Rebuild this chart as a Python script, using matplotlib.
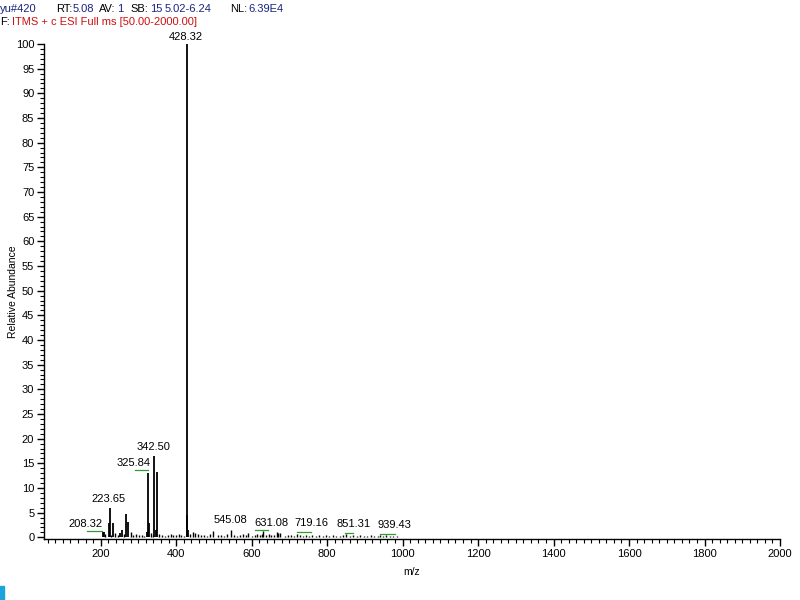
import matplotlib.pyplot as plt
from matplotlib.patches import Rectangle
from matplotlib.ticker import MultipleLocator
import matplotlib.transforms as mtransforms
import numpy as np

plt.rcParams['font.family'] = ['Liberation Sans', 'DejaVu Sans']

# main peaks (m/z, relative abundance)
main_mz = [205.5, 208.32, 221.4, 223.65, 233.7, 251.0, 256.0, 267.5, 273.6,
           322.0, 325.84, 328.0, 342.50, 348.0, 350.0, 428.32, 429.3, 430.3]
main_int = [1.1, 1.1, 2.8, 6.0, 2.8, 0.8, 1.5, 4.7, 3.2,
            1.0, 13.1, 2.8, 16.5, 1.5, 13.2, 100.0, 4.6, 1.5]

# baseline noise peaks
minor_mz = [212, 228, 238, 245, 262, 280, 287, 295, 303, 310, 316, 333, 338,
            355, 362, 370, 378, 386, 393, 401, 408, 414, 420, 437, 446, 450,
            458, 466, 474, 482, 490, 499, 511, 519, 527, 535, 545.08, 553, 561,
            569, 577, 585, 591, 601, 609, 615, 621, 627, 631.08, 639, 645, 652,
            659, 666, 670, 676, 688, 697, 705, 712, 719.16, 727, 735, 744, 752,
            761, 770, 779, 788, 797, 806, 815, 824, 833, 842, 851.31, 860, 869,
            878, 888, 897, 906, 916, 925, 934, 939.43, 948, 957, 966, 975, 984]
minor_int = [0.6, 0.4, 0.9, 0.5, 0.7, 1.0, 0.5, 0.6, 0.4, 0.5, 0.3, 0.8, 0.5,
             0.7, 0.4, 0.3, 0.5, 0.6, 0.4, 0.5, 0.6, 0.4, 0.3, 0.7, 1.1, 0.9,
             0.6, 0.4, 0.5, 0.3, 0.6, 1.3, 0.4, 0.5, 0.3, 0.6, 1.4, 0.5, 0.3,
             0.4, 0.6, 0.5, 0.9, 0.3, 0.5, 0.6, 0.4, 0.7, 1.3, 0.5, 0.6, 0.4,
             0.5, 1.1, 0.9, 0.8, 0.3, 0.4, 0.5, 0.3, 0.6, 0.4, 0.3, 0.5, 0.3,
             0.4, 0.3, 0.5, 0.3, 0.4, 0.3, 0.4, 0.3, 0.3, 0.4, 0.7, 0.3, 0.4,
             0.3, 0.4, 0.3, 0.3, 0.4, 0.3, 0.3, 0.5, 0.3, 0.4, 0.3, 0.3, 0.3]

# labelled peaks
label_mz = [208.32, 223.65, 325.84, 342.50, 428.32, 545.08, 631.08, 719.16, 851.31, 939.43]
label_int = [1.1, 6.0, 13.1, 16.5, 100.0, 1.4, 1.3, 0.6, 0.7, 0.5]
label_txt = ['208.32', '223.65', '325.84', '342.50', '428.32', '545.08', '631.08', '719.16', '851.31', '939.43']

# label placement in pixels relative to the peak top (style only)
label_dx = [-18, -1, -15, -1, -1, 0, 8, 15, 7, 15]
label_dy = [3, 4, 5, 4, 2, 5, 3, 6, 5, 5]
green_seg = [(-17, -2, 1), None, (-13, 0, 3), None, None, None,
             (-8, 5, 1), (0, 14, 2), (-1, 7, 1), (0, 15, 1)]

fig = plt.figure(figsize=(8, 6), dpi=100, facecolor='white')
ax = fig.add_axes([0.055, 0.1012, 0.92, 0.8255])

ax.vlines(minor_mz, 0, minor_int, color='black', lw=1.0)
ax.vlines(main_mz, 0, main_int, color='black', lw=1.3)

ax.set_xlim(50, 2000)
ax.set_ylim(-0.4, 100)

for i, t in enumerate(label_txt):
    ax.annotate(t, (label_mz[i], label_int[i]), xytext=(label_dx[i], label_dy[i]),
                textcoords='offset pixels', ha='center', va='bottom',
                fontsize=8, color='black')
    if green_seg[i] is not None:
        x0, x1, dy = green_seg[i]
        tr0 = mtransforms.offset_copy(ax.transData, fig, x=x0, y=dy, units='dots')
        tr1 = mtransforms.offset_copy(ax.transData, fig, x=x1, y=dy, units='dots')
        p0 = tr0.transform((label_mz[i], label_int[i]))
        p1 = tr1.transform((label_mz[i], label_int[i]))
        ax.plot([p0[0], p1[0]], [p0[1], p1[1]], color='#2e9e2e', lw=0.9,
                transform=None, clip_on=False)

ax.spines['top'].set_visible(False)
ax.spines['right'].set_visible(False)
ax.spines['left'].set_linewidth(1.0)
ax.spines['bottom'].set_linewidth(1.0)

ax.xaxis.set_minor_locator(MultipleLocator(20))
ax.yaxis.set_major_locator(MultipleLocator(5))
ax.yaxis.set_minor_locator(MultipleLocator(1))
ax.set_xticks(np.arange(200, 2001, 200))
ax.tick_params(axis='both', which='major', length=5, width=1, labelsize=8, pad=2)
ax.tick_params(axis='both', which='minor', length=3, width=0.8)

ax.set_xlabel('m/z', fontsize=7.5, labelpad=6)
ax.set_ylabel('Relative Abundance', fontsize=7.5)
ax.yaxis.set_label_coords(-0.036, 0.5)

# header lines
hdr = [('yu#420', '#1a237e', 0), ('RT:', 'black', 56), ('5.08', '#1a237e', 73),
       ('AV:', 'black', 99), ('1', '#1a237e', 117), ('SB:', 'black', 130),
       ('15', '#1a237e', 150), ('5.02-6.24', '#1a237e', 165),
       ('NL:', 'black', 230), ('6.39E4', '#1a237e', 248)]
for t, c, px in hdr:
    fig.text(px / 800, 1 - 9 / 600, t, color=c, fontsize=8, va='center', ha='left')
fig.text(0 / 800, 1 - 22 / 600, 'F:', color='black', fontsize=8, va='center', ha='left')
fig.text(12 / 800, 1 - 22 / 600, 'ITMS + c ESI Full ms [50.00-2000.00]', color='#cc1111',
         fontsize=8, va='center', ha='left')

fig.patches.append(Rectangle((0, 0), 4 / 800, 14 / 600, transform=fig.transFigure,
                             color='#1aa3dc', figure=fig))

fig.savefig('out.png', dpi=100, facecolor='white')
